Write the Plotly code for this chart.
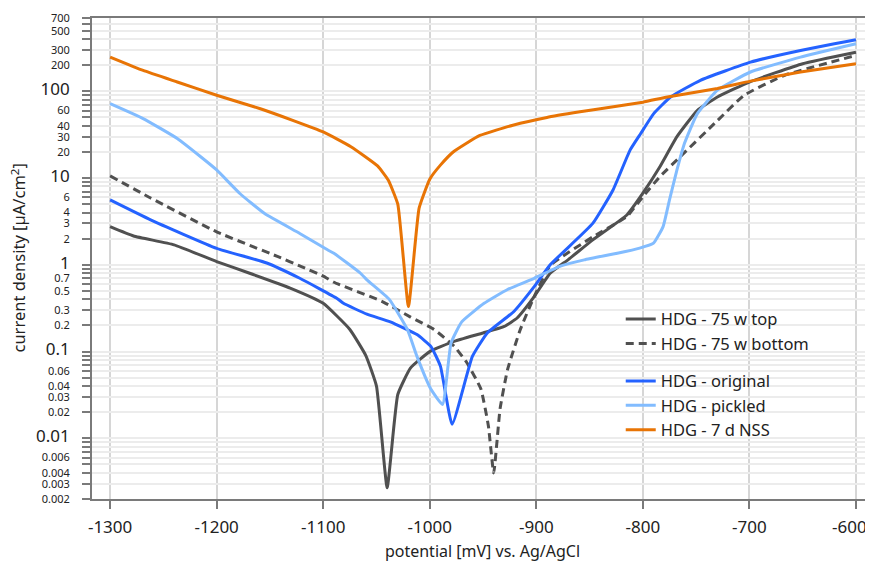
import plotly.graph_objects as go
import numpy as np

# ---- data (potential in mV, current density in µA/cm²) ----
top_x = [-1300, -1278, -1240, -1200, -1169, -1131, -1100, -1075, -1060, -1050, -1040, -1030, -1018,
         -1000, -978, -950, -930, -918, -902, -887, -870, -847, -815, -800, -784, -768,
         -749, -730, -700, -650, -600]
top_y = [2.75, 2.15, 1.7, 1.09, 0.80, 0.54, 0.36, 0.18, 0.09, 0.04, 0.0027, 0.032, 0.065,
         0.1, 0.13, 0.164, 0.195, 0.244, 0.43, 0.8, 1.15, 1.94, 3.76, 6.7, 13.5, 30,
         60, 86, 128, 208, 282]

bottom_x = [-1300, -1262, -1200, -1143, -1121, -1100, -1090, -1045, -1018, -996, -977, -965,
            -952, -945, -940, -934, -927, -915, -902, -887, -847, -815, -800, -784, -765,
            -730, -705, -667, -600]
bottom_y = [10.6, 5.9, 2.4, 1.25, 0.96, 0.74, 0.63, 0.38, 0.25, 0.18, 0.115, 0.074,
            0.037, 0.014, 0.004, 0.022, 0.062, 0.18, 0.43, 0.98, 2.1, 3.6, 6.1, 10.4, 17.6,
            46, 90, 153, 259]

orig_x = [-1300, -1262, -1200, -1153, -1122, -1087, -1081, -1059, -1037, -1012, -999,
          -990, -979, -960, -946, -921, -902, -887, -847, -828, -812, -802, -790,
          -774, -746, -699, -652, -600]
orig_y = [5.6, 3.3, 1.55, 1.05, 0.70, 0.41, 0.36, 0.27, 0.22, 0.157, 0.115,
          0.068, 0.0145, 0.088, 0.164, 0.29, 0.56, 1.0, 3.0, 7.3, 21, 32.6, 55,
          86, 134, 217, 296, 393]

pick_x = [-1300, -1269, -1237, -1215, -1200, -1178, -1155, -1122, -1096, -1090, -1065, -1059, -1038,
          -1021, -1012, -999, -988, -980, -970, -949, -927, -902, -878, -855, -824, -803,
          -790, -781, -775, -768, -761, -749, -730, -699, -652, -600]
pick_y = [72, 48.5, 28.6, 17.6, 12.4, 6.6, 3.9, 2.3, 1.49, 1.36, 0.8, 0.67, 0.40,
          0.18, 0.088, 0.037, 0.0246, 0.126, 0.22, 0.36, 0.52, 0.70, 0.96, 1.14, 1.36, 1.56,
          1.78, 2.76, 5.6, 12.4, 25, 55, 103, 167, 248, 353]

nss_x = [-1300, -1269, -1237, -1200, -1159, -1128, -1100, -1074, -1049, -1039, -1030, -1020,
         -1010, -1000, -990, -978, -953, -922, -890, -859, -840, -800, -777, -730, -699,
         -652, -600]
nss_y = [248, 174, 128, 90, 63, 46, 34, 23, 13.8, 9.5, 5.0, 0.33,
         4.5, 9.7, 14.1, 20, 31, 40.7, 50, 58, 63, 75, 86, 108, 131,
         167, 208]

x_ticks = [-1300, -1200, -1100, -1000, -900, -800, -700, -600]
x_ticktext = ["-1300", "-1200", "-1100", "-1000", "-900", "-800", "-700",
              "-600&nbsp;&nbsp;&nbsp;"]

# y tick positions & labels
big = {0.01: "0.01", 0.1: "0.1", 1: "1", 10: "10", 100: "100"}
small_labels = {700: "700", 500: "500", 300: "300", 200: "200",
                60: "60", 40: "40", 30: "30", 20: "20",
                6: "6", 4: "4", 3: "3", 2: "2",
                0.7: "0.7", 0.5: "0.5", 0.3: "0.3", 0.2: "0.2",
                0.06: "0.06", 0.04: "0.04", 0.03: "0.03", 0.02: "0.02",
                0.006: "0.006", 0.004: "0.004", 0.003: "0.003", 0.002: "0.002"}

yvals, ytext = [], []
for d in [0.001, 0.01, 0.1, 1, 10, 100]:
    for m in range(1, 10):
        v = round(m * d, 6)
        if v < 0.002 or v > 700:
            continue
        yvals.append(v)
        key = None
        for k in list(big) + list(small_labels):
            if abs(k - v) < 1e-9 * max(1, v):
                key = k
        if key in big:
            ytext.append('<span style="font-size:17px">%s</span>' % big[key])
        elif key in small_labels:
            ytext.append(small_labels[key])
        else:
            ytext.append(" ")

decades = [0.01, 0.1, 1, 10, 100]

GRAY = "#505050"
BLUE = "#2462ff"
LBLUE = "#82bcff"
ORANGE = "#e87405"
SM = 0.4

fig = go.Figure()
fig.add_trace(go.Scatter(x=top_x, y=top_y, mode="lines", name="HDG - 75 w top",
                         line=dict(color=GRAY, width=3, shape="spline", smoothing=SM), legendgroup="a"))
fig.add_trace(go.Scatter(x=bottom_x, y=bottom_y, mode="lines", name="HDG - 75 w bottom",
                         line=dict(color=GRAY, width=3, dash="8px,5px", shape="spline", smoothing=SM),
                         legendgroup="a"))
fig.add_trace(go.Scatter(x=orig_x, y=orig_y, mode="lines", name="HDG - original",
                         line=dict(color=BLUE, width=3, shape="spline", smoothing=SM), legendgroup="b"))
fig.add_trace(go.Scatter(x=pick_x, y=pick_y, mode="lines", name="HDG - pickled",
                         line=dict(color=LBLUE, width=3, shape="spline", smoothing=SM), legendgroup="b"))
fig.add_trace(go.Scatter(x=nss_x, y=nss_y, mode="lines", name="HDG - 7 d NSS",
                         line=dict(color=ORANGE, width=3, shape="spline", smoothing=SM), legendgroup="b"))

yrange = [np.log10(0.002), np.log10(700)]

# page body has an 8px margin: figure is sized/offset so the plot lands where the reference has it
fig.update_layout(
    width=865, height=554,
    margin=dict(l=84, r=0, t=10, b=63, autoexpand=False),
    paper_bgcolor="white", plot_bgcolor="white",
    font=dict(family="Noto Sans", size=11, color="#222222"),
    showlegend=True,
    legend=dict(x=0.677, y=0.410, xanchor="left", yanchor="top",
                font=dict(size=16.5, color="#222222"),
                traceorder="grouped", tracegroupgap=13,
                bgcolor="rgba(0,0,0,0)", itemwidth=30),
    xaxis=dict(range=[-1317, -584], tickvals=x_ticks, ticktext=x_ticktext,
               ticklabeloverflow="allow", automargin=False, ticklabelstandoff=4,
               tickfont=dict(size=17), showgrid=True, gridcolor="#d6d6d6", gridwidth=2,
               showline=True, linecolor="#7a7a7a", linewidth=2, mirror=True,
               ticks="outside", ticklen=8, tickwidth=2, tickcolor="#7a7a7a",
               zeroline=False,
               title=dict(text="potential [mV] vs. Ag/AgCl", font=dict(size=16), standoff=8)),
    yaxis=dict(type="log", range=yrange, tickvals=yvals, ticktext=ytext,
               showgrid=True, gridcolor="#ececec", gridwidth=1.5, automargin=False,
               showline=True, linecolor="#7a7a7a", linewidth=2,
               ticks="outside", ticklen=8, tickwidth=1.5, tickcolor="#7a7a7a",
               ticklabelstandoff=10, zeroline=False),
    yaxis2=dict(type="log", range=yrange, overlaying="y", side="left", tickvals=decades,
                showticklabels=False, showgrid=True, gridcolor="#d6d6d6", gridwidth=2,
                showline=False, ticks="", zeroline=False, automargin=False),
    annotations=[dict(text="current density [µA/cm<sup>2</sup>]", textangle=-90,
                      xref="paper", yref="paper", x=-0.0947, y=0.5,
                      xanchor="center", yanchor="middle", showarrow=False,
                      font=dict(size=16.5, color="#222222"))],
)

fig.write_html("out.html")
